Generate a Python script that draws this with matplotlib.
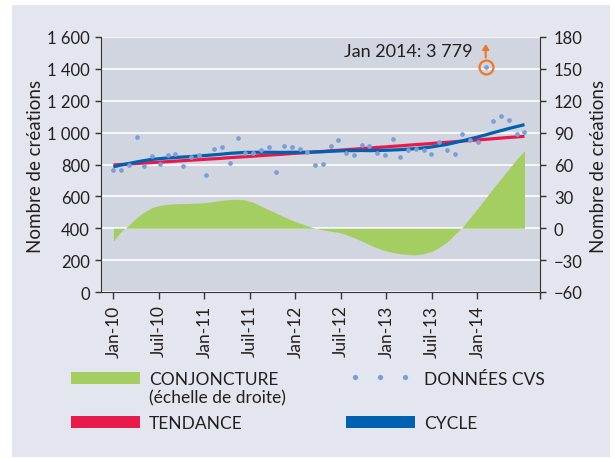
import numpy as np
import matplotlib
matplotlib.use("Agg")
import matplotlib.pyplot as plt
from matplotlib.patches import Rectangle
from matplotlib.lines import Line2D

plt.rcParams['font.family'] = ['Lato', 'DejaVu Sans']

# ---------------- data ----------------
tick_labels = ["Jan-10", "Juil-10", "Jan-11", "Juil-11", "Jan-12",
               "Juil-12", "Jan-13", "Juil-13", "Jan-14"]

donnees_cvs = [766, 768, 799, 975, 790, 851, 801, 862, 868, 790,
               850, 860, 735, 897, 910, 807, 967, 872, 873, 888,
               912, 752, 916, 912, 897, 876, 797, 805, 918, 956,
               871, 862, 924, 919, 870, 862, 958, 845, 890, 897,
               891, 864, 941, 893, 868, 989, 956, 941, 3779, 1073,
               1104, 1080, 992, 1007]

tendance = [797, 800, 803, 806, 809, 812, 815, 818, 821, 824,
            827, 830, 833, 836, 839, 843, 846, 849, 852, 856,
            859, 862, 865, 869, 872, 875, 879, 882, 886, 889,
            893, 896, 900, 903, 907, 910, 914, 917, 921, 925,
            928, 932, 936, 939, 943, 947, 951, 954, 958, 962,
            966, 970, 973, 977]

cycle = [785, 797, 806, 816, 825, 832, 837, 841, 844, 847,
         850, 854, 857, 861, 865, 870, 873, 876, 876, 877,
         877, 876, 876, 877, 877, 877, 879, 880, 883, 885,
         887, 887, 888, 887, 888, 889, 891, 893, 896, 900,
         904, 910, 918, 926, 937, 948, 961, 973, 986, 1000,
         1013, 1026, 1038, 1050]

conjoncture = [-12, -3, 3, 10, 15.5, 19.5, 21.5, 22.6, 23, 23.2,
               23.4, 23.7, 24.2, 25.3, 26.3, 27, 27.3, 26.6, 24.5, 21,
               17.6, 14.2, 10.8, 7.6, 4.8, 2.3, 0.2, -1.5, -2.8, -3.8,
               -6, -8.8, -12, -15.5, -18.5, -21, -22.8, -24, -24.8, -25,
               -24, -22, -18, -13, -6, 1, 10, 19, 28.5, 38,
               47, 56, 65, 73]

outlier_label = "Jan 2014: 3 779"

# ---------------- style ----------------
W, H = 615, 460
C_PANEL = "#e3e6ee"
C_AX = "#d1d5df"
C_GREEN = "#a4cd62"
C_RED = "#e8194b"
C_BLUE = "#0061b0"
C_DOT = "#7d9dd8"
C_ORANGE = "#f07525"
C_TEXT = "#231f20"
C_SPINE = "#333333"
DISPLAY_CAP = 1414          # off-scale point drawn at the top of the plot
TICK_STEP = 5.867           # 6 months on the original's tick scale

def px(x, y):
    return x / W, 1 - y / H

fig = plt.figure(figsize=(W / 100, H / 100), dpi=100)
fig.patch.set_facecolor("white")
fig.patches.append(Rectangle(px(12, 458), (610 - 12) / W, (458 - 6) / H,
                             transform=fig.transFigure, facecolor=C_PANEL,
                             edgecolor="none", zorder=-10))

l, r, t, b = 101, 540, 38, 293
ax = fig.add_axes([l / W, 1 - b / H, (r - l) / W, (b - t) / H])
ax2 = ax.twinx()
ax2.set_zorder(1)
ax.set_zorder(2)
ax.patch.set_visible(False)
ax2.patch.set_visible(True)

x = np.arange(len(donnees_cvs))
cvs = np.array(donnees_cvs, dtype=float)
cvs_disp = np.minimum(cvs, DISPLAY_CAP)

# right-scale axes: background, grid, conjoncture
ax2.set_facecolor(C_AX)
ax2.set_ylim(-60, 180)
ax2.set_yticks(np.arange(-60, 181, 30))
ax2.grid(axis="y", color="white", linewidth=1.2, zorder=0)
ax2.set_axisbelow(True)
ax2.fill_between(x, 0, conjoncture, color=C_GREEN, linewidth=0, zorder=2)
for s in ["top", "left", "bottom"]:
    ax2.spines[s].set_visible(False)
ax2.spines["right"].set_color(C_SPINE)
ax2.tick_params(axis="y", direction="out", length=4, width=1, pad=6,
                labelsize=12, colors=C_SPINE, labelcolor=C_TEXT)

# left-scale axes: lines and points
ax.set_ylim(0, 1600)
ax.set_yticks(np.arange(0, 1601, 200))
ax.set_yticklabels([f"{v:,}".replace(",", " ") for v in range(0, 1601, 200)])
ax.plot(x, tendance, color=C_RED, linewidth=2.3, solid_capstyle="butt", zorder=3)
ax.plot(x, cycle, color=C_BLUE, linewidth=2.3, solid_capstyle="butt", zorder=4)
ax.plot(x, cvs_disp, linestyle="none", marker="o", markersize=3.4,
        markerfacecolor=C_DOT, markeredgewidth=0, zorder=5)

# outlier marking
io = int(np.argmax(cvs))
ax.plot([x[io]], [cvs_disp[io]], marker="o", markersize=10, markerfacecolor="none",
        markeredgecolor=C_ORANGE, markeredgewidth=1.6, linestyle="none", zorder=6)
ax.annotate("", xy=(x[io], cvs_disp[io] + 160), xytext=(x[io], cvs_disp[io] + 40),
            arrowprops=dict(arrowstyle="-|>,head_width=0.18,head_length=0.3",
                            color=C_ORANGE, linewidth=1.5), zorder=6)
ax.text(46.3, 1483, outlier_label, ha="right", va="baseline", fontsize=13,
        color=C_TEXT)

ax.set_xlim(-1.6, 55.0)
ax.set_xticks([k * TICK_STEP for k in range(len(tick_labels))])
ax.set_xticklabels(tick_labels, rotation=90, fontsize=12.5, color=C_TEXT)
ax.set_xticks([55.0], minor=True)
ax.tick_params(axis="x", which="both", direction="out", length=5, width=1, pad=4,
               colors=C_SPINE, labelcolor=C_TEXT)
ax.tick_params(axis="y", direction="out", length=4, width=1, pad=4,
               labelsize=12, colors=C_SPINE, labelcolor=C_TEXT)
for s in ["top", "right"]:
    ax.spines[s].set_visible(False)
for s in ["left", "bottom"]:
    ax.spines[s].set_color(C_SPINE)

# axis titles
fig.text(*px(36, 166), "Nombre de créations", rotation=90, ha="center", va="center",
         fontsize=13.5, color=C_TEXT)
fig.text(*px(598, 166), "Nombre de créations", rotation=90, ha="center", va="center",
         fontsize=13.5, color=C_TEXT)

# legend
def rect(x0, y0, x1, y1, color):
    fig.patches.append(Rectangle(px(x0, y1), (x1 - x0) / W, (y1 - y0) / H,
                                 transform=fig.transFigure, facecolor=color,
                                 edgecolor="none", zorder=3))

rect(71, 373, 140, 385, C_GREEN)
rect(71, 417, 140, 429, C_RED)
rect(346, 417, 415, 429, C_BLUE)
for dx in (355, 380, 405):
    fig.lines.append(Line2D([dx / W], [1 - 378 / H], transform=fig.transFigure,
                            marker="o", markersize=3.8, markerfacecolor=C_DOT,
                            markeredgewidth=0, linestyle="none", zorder=3))
lfs = 12.5
fig.text(*px(149, 385.5), "CONJONCTURE", ha="left", va="baseline", fontsize=lfs, color=C_TEXT)
fig.text(*px(149, 403), "(échelle de droite)", ha="left", va="baseline", fontsize=lfs, color=C_TEXT)
fig.text(*px(149, 429), "TENDANCE", ha="left", va="baseline", fontsize=lfs, color=C_TEXT)
fig.text(*px(424, 385.5), "DONNÉES CVS", ha="left", va="baseline", fontsize=lfs, color=C_TEXT)
fig.text(*px(424, 429), "CYCLE", ha="left", va="baseline", fontsize=lfs, color=C_TEXT)

fig.savefig("out.png", dpi=100, facecolor="white")
